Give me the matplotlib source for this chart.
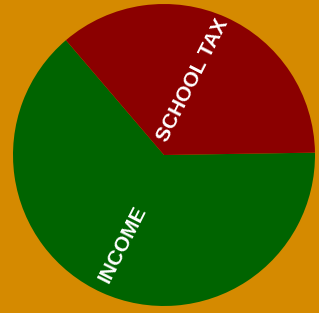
import numpy as np
import matplotlib.pyplot as plt

labels = ['INCOME', 'SCHOOL TAX']
values = [64, 36]
colors = ['#006400', '#8b0000']

bg = '#d58a00'
fig = plt.figure(figsize=(3.19, 3.13), dpi=100, facecolor=bg)
ax = fig.add_axes([0, 0, 1, 1])
ax.set_facecolor(bg)

start = 130.5
wedges, _ = ax.pie(values, colors=colors, startangle=start, counterclock=True,
                   radius=1, center=(0, 0), wedgeprops={'linewidth': 0})

# label placement (radius, angle)
label_pos = [(0.65, 245), (0.53, 69)]
for lab, (r, ang) in zip(labels, label_pos):
    th = np.deg2rad(ang)
    ax.text(r * np.cos(th), r * np.sin(th), lab, rotation=63, rotation_mode='anchor',
            ha='center', va='center', color='white', fontsize=15, fontweight='bold',
            family='Liberation Sans')

ax.set_xlim(-164 / 151, 155 / 151)
ax.set_ylim(-158 / 151, 155 / 151)
ax.set_aspect('auto')
ax.axis('off')

fig.savefig('out.png', dpi=100, facecolor=bg)
